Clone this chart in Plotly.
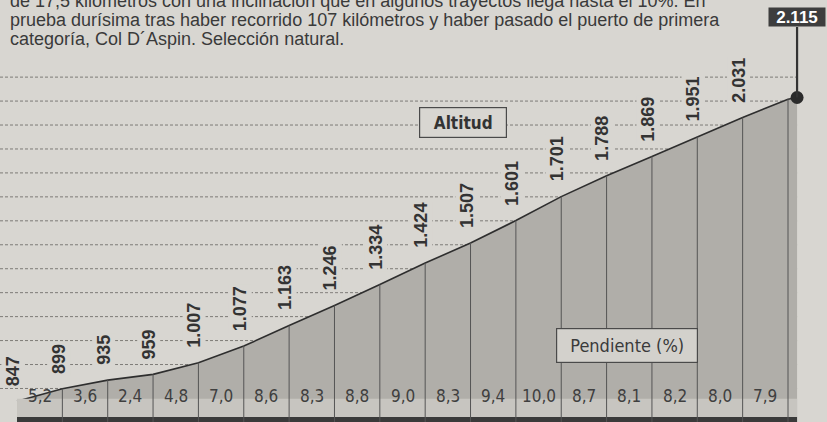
import plotly.graph_objects as go

# km marks along the climb and altitude (m) at each mark; last entry is the summit
KM = [0, 1, 2, 3, 4, 5, 6, 7, 8, 9, 10, 11, 12, 13, 14, 15, 16, 17, 17.2]
ALT = [847, 899, 935, 959, 1007, 1077, 1163, 1246, 1334, 1424, 1507, 1601,
       1701, 1788, 1869, 1951, 2031, 2108, 2115]
N_LABELED = 17  # altitudes printed above the profile
SLOPE = [5.2, 3.6, 2.4, 4.8, 7.0, 8.6, 8.3, 8.8, 9.0, 8.3, 9.4, 10.0, 8.7,
         8.1, 8.2, 8.0, 7.9]
GRID = list(range(900, 2201, 100))

TEXT_LINES = [
    "de 17,5 kilómetros con una inclinación que en algunos trayectos llega hasta el 10%. En",
    "prueba durísima tras haber recorrido 107 kilómetros y haber pasado el puerto de primera",
    "categoría, Col D´Aspin. Selección natural.",
]

PAPER = "#d8d6d1"
FILL = "#b0aea9"
STRIP = "#c7c5c0"
DARK = "#333333"
FONT = "Liberation Sans, Arial, sans-serif"
NARROW = "DejaVu Sans Condensed, sans-serif"

X_RANGE = [-0.375, 17.86]
Y_RANGE = [760, 2522]


def es_int(v):
    return f"{v:,}".replace(",", ".")


def es_dec(v):
    return f"{v:.1f}".replace(".", ",")


fig = go.Figure()

# profile
fig.add_trace(go.Scatter(
    x=KM, y=ALT, mode="lines", fill="tozeroy", fillcolor=FILL,
    line={"color": "#2e2e2e", "width": 1.6}, hoverinfo="skip",
))
# summit dot
fig.add_trace(go.Scatter(
    x=[KM[-1]], y=[ALT[-1]], mode="markers",
    marker={"size": 13, "color": "#2b2b2b"}, hoverinfo="skip",
))

shapes = []
# -- dashed altitude guides --
for g in GRID:
    shapes.append({"type": "line", "xref": "x", "yref": "y",
                   "x0": X_RANGE[0], "x1": KM[-1], "y0": g, "y1": g,
                   "line": {"color": "#7d7b77", "width": 1, "dash": "3px,2px"},
                   "layer": "below"})
# -- slope strip + dark base bar --
shapes.append({"type": "rect", "xref": "x", "yref": "paper",
               "x0": KM[0], "x1": KM[-1], "y0": 0.012, "y1": 0.055,
               "fillcolor": STRIP, "line": {"width": 0}, "layer": "above"})
shapes.append({"type": "rect", "xref": "x", "yref": "paper",
               "x0": KM[0], "x1": KM[-1], "y0": 0, "y1": 0.012,
               "fillcolor": "#3a3a3a", "line": {"width": 0}, "layer": "above"})
# -- km dividers --
for k, a in zip(KM[1:-1], ALT[1:-1]):
    shapes.append({"type": "line", "xref": "x", "yref": "y",
                   "x0": k, "x1": k, "y0": Y_RANGE[0], "y1": a,
                   "line": {"color": "#555555", "width": 1}, "layer": "above"})

ann = []
# altitude labels
for k, a in zip(KM[:N_LABELED], ALT[:N_LABELED]):
    ann.append({"x": k, "y": a, "text": es_int(a), "showarrow": False,
                "textangle": -90, "xanchor": "center", "yanchor": "bottom",
                "xshift": -4, "yshift": 13, "bgcolor": PAPER, "borderpad": 1,
                "font": {"family": FONT, "size": 18, "color": DARK, "weight": "bold"}})
# slope labels
for i, s in enumerate(SLOPE):
    ann.append({"x": (KM[i] + KM[i + 1]) / 2, "y": 0.033, "yref": "paper",
                "text": es_dec(s), "showarrow": False,
                "font": {"family": NARROW, "size": 17, "color": "#3f3f3f"}})
# summit box
ann.append({"x": KM[-1], "y": ALT[-1], "text": es_int(ALT[-1]),
            "showarrow": True, "arrowhead": 0, "arrowwidth": 2.2,
            "arrowcolor": "#333333", "ax": 0, "ay": -80,
            "bgcolor": "#3d3d3d", "width": 56, "height": 18, "borderpad": 0,
            "font": {"family": FONT, "size": 17, "color": "white", "weight": "bold"}})
# boxes
ann.append({"x": 462.5 / 827, "y": 1 - 107 / 422, "xref": "paper", "yref": "paper",
            "text": "Altitud", "showarrow": False, "width": 84, "height": 27,
            "bgcolor": PAPER, "bordercolor": "#4a4a4a", "borderwidth": 1.2,
            "font": {"family": NARROW, "size": 17, "color": DARK, "weight": "bold"}})
ann.append({"x": 697.5 / 827, "y": 1 - 362.5 / 422, "xref": "paper", "yref": "paper",
            "text": "Pendiente (%)", "showarrow": False, "width": 138, "height": 31,
            "bgcolor": "#d3d1cc", "bordercolor": "#4a4a4a", "borderwidth": 1.2,
            "font": {"family": NARROW, "size": 18, "color": "#3a3a3a"}})
# body text
for i, line in enumerate(TEXT_LINES):
    ann.append({"x": 8 / 827, "y": 1 - (1 + 19 * i) / 422, "xref": "paper", "yref": "paper",
                "xanchor": "left", "yanchor": "middle", "text": line, "showarrow": False,
                "font": {"family": FONT, "size": 18, "color": "#3a3a3a"}})

fig.update_layout(
    width=827, height=422,
    margin={"l": 0, "r": 0, "t": 0, "b": 0},
    paper_bgcolor=PAPER, plot_bgcolor=PAPER,
    showlegend=False,
    xaxis={"range": X_RANGE, "visible": False, "fixedrange": True},
    yaxis={"range": Y_RANGE, "visible": False, "fixedrange": True},
    shapes=shapes, annotations=ann,
)

fig.write_html("out.html", config={"displayModeBar": False},
               post_script="document.body.style.margin='0';")
